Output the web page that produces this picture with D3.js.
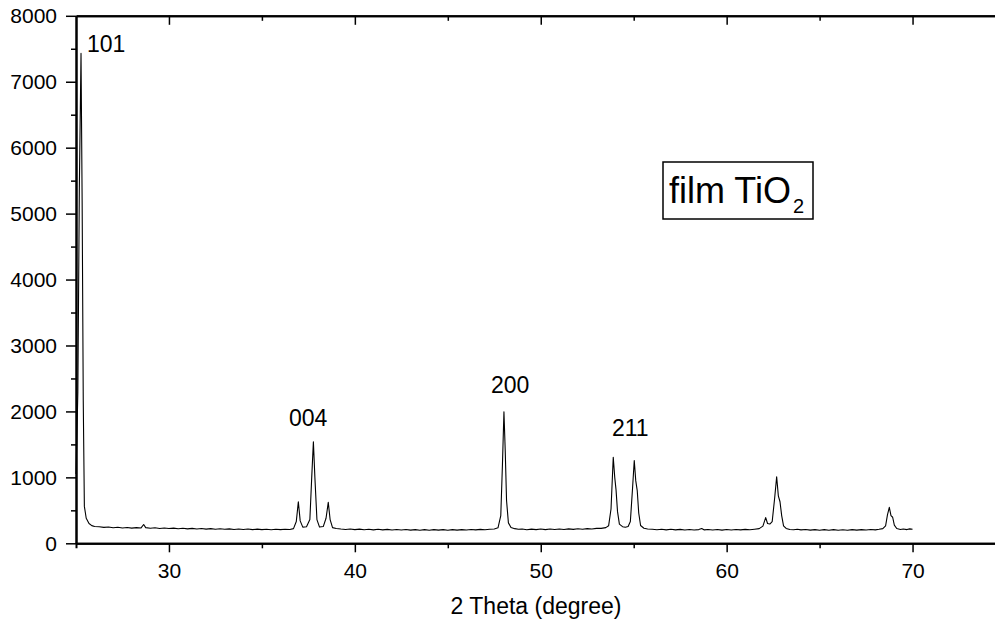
<!DOCTYPE html>
<html>
<head>
<meta charset="utf-8">
<script src="https://cdn.jsdelivr.net/npm/d3@7"></script>
<style>
  body { margin: 0; background: #fff; }
  text { font-family: "Liberation Sans", Arial, sans-serif; fill: #000; }
</style>
</head>
<body>
<div id="chart"></div>
<script>
// XRD pattern: [2 theta, intensity]
var pattern = [
  [25.00, 1050], [25.10, 2300], [25.18, 5400], [25.27, 7430], [25.33, 5200], [25.39, 2170],
  [25.45, 560], [25.55, 380], [25.70, 300], [25.85, 268], [26.00, 255], [26.25, 252],
  [26.50, 241], [26.75, 248], [27.00, 236], [27.25, 243], [27.50, 232], [27.75, 240],
  [28.00, 230], [28.25, 238], [28.50, 233], [28.64, 285], [28.75, 238], [29.00, 228],
  [29.25, 235], [29.50, 224], [29.75, 231], [30.00, 225], [30.25, 230], [30.50, 221],
  [30.75, 228], [31.00, 219], [31.25, 226], [31.50, 217], [31.75, 224], [32.00, 215],
  [32.25, 222], [32.50, 213], [32.75, 220], [33.00, 212], [33.25, 219], [33.50, 210],
  [33.75, 217], [34.00, 209], [34.25, 216], [34.50, 208], [34.75, 215], [35.00, 207],
  [35.25, 214], [35.50, 206], [35.75, 213], [36.00, 207], [36.25, 214], [36.50, 210],
  [36.70, 222], [36.85, 330], [36.96, 630], [37.06, 340], [37.20, 245], [37.40, 250],
  [37.58, 360], [37.68, 1000], [37.77, 1540], [37.85, 1000], [37.96, 360], [38.10, 246],
  [38.30, 254], [38.45, 380], [38.57, 620], [38.67, 360], [38.80, 238], [39.00, 224],
  [39.25, 216], [39.50, 210], [39.75, 217], [40.00, 208], [40.25, 215], [40.50, 206],
  [40.75, 213], [41.00, 204], [41.25, 212], [41.50, 203], [41.75, 211], [42.00, 202],
  [42.25, 210], [42.50, 201], [42.75, 209], [43.00, 200], [43.25, 208], [43.50, 199],
  [43.75, 207], [44.00, 199], [44.25, 207], [44.50, 200], [44.75, 208], [45.00, 199],
  [45.25, 207], [45.50, 200], [45.75, 208], [46.00, 201], [46.25, 209], [46.50, 203],
  [46.75, 211], [47.00, 205], [47.25, 213], [47.50, 218], [47.70, 235], [47.85, 420],
  [47.94, 1200], [48.02, 1995], [48.09, 1400], [48.16, 650], [48.26, 310], [48.40, 240],
  [48.60, 222], [48.80, 212], [49.00, 218], [49.25, 206], [49.50, 215], [49.75, 207],
  [50.00, 216], [50.25, 208], [50.50, 217], [50.75, 209], [51.00, 218], [51.25, 210],
  [51.50, 219], [51.75, 211], [52.00, 220], [52.25, 213], [52.50, 222], [52.75, 216],
  [53.00, 226], [53.25, 226], [53.50, 238], [53.65, 265], [53.78, 520], [53.90, 1305],
  [53.98, 1000], [54.05, 810], [54.13, 480], [54.23, 290], [54.40, 252], [54.55, 244],
  [54.70, 256], [54.82, 330], [54.93, 800], [55.03, 1255], [55.11, 950], [55.19, 800],
  [55.27, 460], [55.37, 270], [55.55, 228], [55.75, 216], [56.00, 212], [56.25, 205],
  [56.50, 213], [56.75, 204], [57.00, 212], [57.25, 203], [57.50, 211], [57.75, 202],
  [58.00, 210], [58.25, 202], [58.50, 208], [58.66, 224], [58.80, 203], [59.00, 210],
  [59.25, 201], [59.50, 209], [59.75, 200], [60.00, 209], [60.25, 201], [60.50, 210],
  [60.75, 203], [61.00, 211], [61.25, 206], [61.50, 214], [61.75, 222], [61.95, 260],
  [62.10, 390], [62.20, 300], [62.32, 292], [62.45, 330], [62.58, 680], [62.69, 1010],
  [62.78, 720], [62.87, 630], [62.96, 420], [63.06, 265], [63.20, 225], [63.40, 210],
  [63.60, 206], [63.80, 212], [64.00, 203], [64.25, 210], [64.50, 200], [64.75, 208],
  [65.00, 199], [65.25, 207], [65.50, 198], [65.75, 207], [66.00, 199], [66.25, 206],
  [66.50, 198], [66.75, 207], [67.00, 200], [67.25, 208], [67.50, 201], [67.75, 209],
  [68.00, 204], [68.20, 212], [68.40, 222], [68.55, 265], [68.65, 430], [68.75, 545],
  [68.84, 420], [68.93, 395], [69.02, 275], [69.15, 225], [69.35, 210], [69.50, 218],
  [69.70, 208], [69.85, 219], [70.00, 212]
];

// hkl labels, anchored in data units (left edge, baseline)
var peakLabels = [
  { hkl: "101", angle: 25.59, counts: 7450 },
  { hkl: "004", angle: 36.46, counts: 1780 },
  { hkl: "200", angle: 47.32, counts: 2280 },
  { hkl: "211", angle: 53.83, counts: 1627 }
];

var xMajor = [30, 40, 50, 60, 70];
var xMinor = [35, 45, 55, 65];
var yMajor = [0, 1000, 2000, 3000, 4000, 5000, 6000, 7000, 8000];
var yMinor = [500, 1500, 2500, 3500, 4500, 5500, 6500, 7500];

var svgWidth = 995;
var svgHeight = 628;

var margin = { top: 15.8, left: 76 };
var pxPerDeg = 18.59;
var plotBottom = 543.3;

var svg = d3.select("#chart")
  .append("svg")
  .attr("width", svgWidth)
  .attr("height", svgHeight);

// x runs past the right edge of the window, as in the picture
var xScale = d3.scaleLinear()
  .domain([25, 75])
  .range([margin.left, margin.left + 50 * pxPerDeg]);

var yScale = d3.scaleLinear()
  .domain([0, 8000])
  .range([plotBottom, margin.top]);

// spectrum
var line = d3.line()
  .x(d => xScale(d[0]))
  .y(d => yScale(d[1]));

svg.append("path")
  .datum(pattern)
  .attr("fill", "none")
  .attr("stroke", "#000")
  .attr("stroke-width", 1.1)
  .attr("stroke-linejoin", "round")
  .attr("d", line);

// axes
function styleAxis(g) {
  g.select(".domain").attr("stroke", "#000").attr("stroke-width", 2);
  g.selectAll(".tick line").attr("stroke", "#000").attr("stroke-width", 1.5);
  g.selectAll(".tick text").style("font-size", "21px").attr("fill", "#000");
}

svg.append("g")
  .attr("transform", `translate(0, ${plotBottom})`)
  .call(d3.axisBottom(xScale).tickValues(xMinor).tickSize(5).tickFormat(""))
  .call(styleAxis);

svg.append("g")
  .attr("transform", `translate(0, ${plotBottom})`)
  .call(d3.axisBottom(xScale).tickValues(xMajor).tickSize(9).tickPadding(11).tickSizeOuter(0))
  .call(styleAxis);

svg.append("g")
  .attr("transform", `translate(0, ${margin.top})`)
  .call(d3.axisTop(xScale).tickValues(xMajor).tickSize(-9).tickFormat("").tickSizeOuter(0))
  .call(styleAxis);

svg.append("g")
  .attr("transform", `translate(0, ${margin.top})`)
  .call(d3.axisTop(xScale).tickValues(xMinor).tickSize(-5).tickFormat("").tickSizeOuter(0))
  .call(styleAxis);

svg.append("g")
  .attr("transform", `translate(${margin.left}, 0)`)
  .call(d3.axisLeft(yScale).tickValues(yMinor).tickSize(5).tickFormat("").tickSizeOuter(0))
  .call(styleAxis);

svg.append("g")
  .attr("transform", `translate(${margin.left}, 0)`)
  .call(d3.axisLeft(yScale).tickValues(yMajor).tickSize(10).tickPadding(9)
    .tickFormat(d3.format("d")).tickSizeOuter(0))
  .call(styleAxis);

// peak labels
svg.selectAll(".hkl")
  .data(peakLabels)
  .enter()
  .append("text")
  .attr("class", "hkl")
  .attr("x", d => xScale(d.angle))
  .attr("y", d => yScale(d.counts))
  .style("font-size", "23px")
  .text(d => d.hkl);

// x axis title
svg.append("text")
  .attr("x", 536)
  .attr("y", 614)
  .attr("text-anchor", "middle")
  .style("font-size", "23px")
  .text("2 Theta (degree)");

// sample box
svg.append("rect")
  .attr("x", 663)
  .attr("y", 162)
  .attr("width", 150)
  .attr("height", 57)
  .attr("fill", "#fff")
  .attr("stroke", "#000")
  .attr("stroke-width", 1.5);

var boxText = svg.append("text")
  .attr("x", 669)
  .attr("y", 203)
  .style("font-size", "36px");
boxText.append("tspan").text("film TiO");
boxText.append("tspan")
  .attr("dx", 2)
  .attr("dy", 10)
  .style("font-size", "20px")
  .text("2");
</script>
</body>
</html>
